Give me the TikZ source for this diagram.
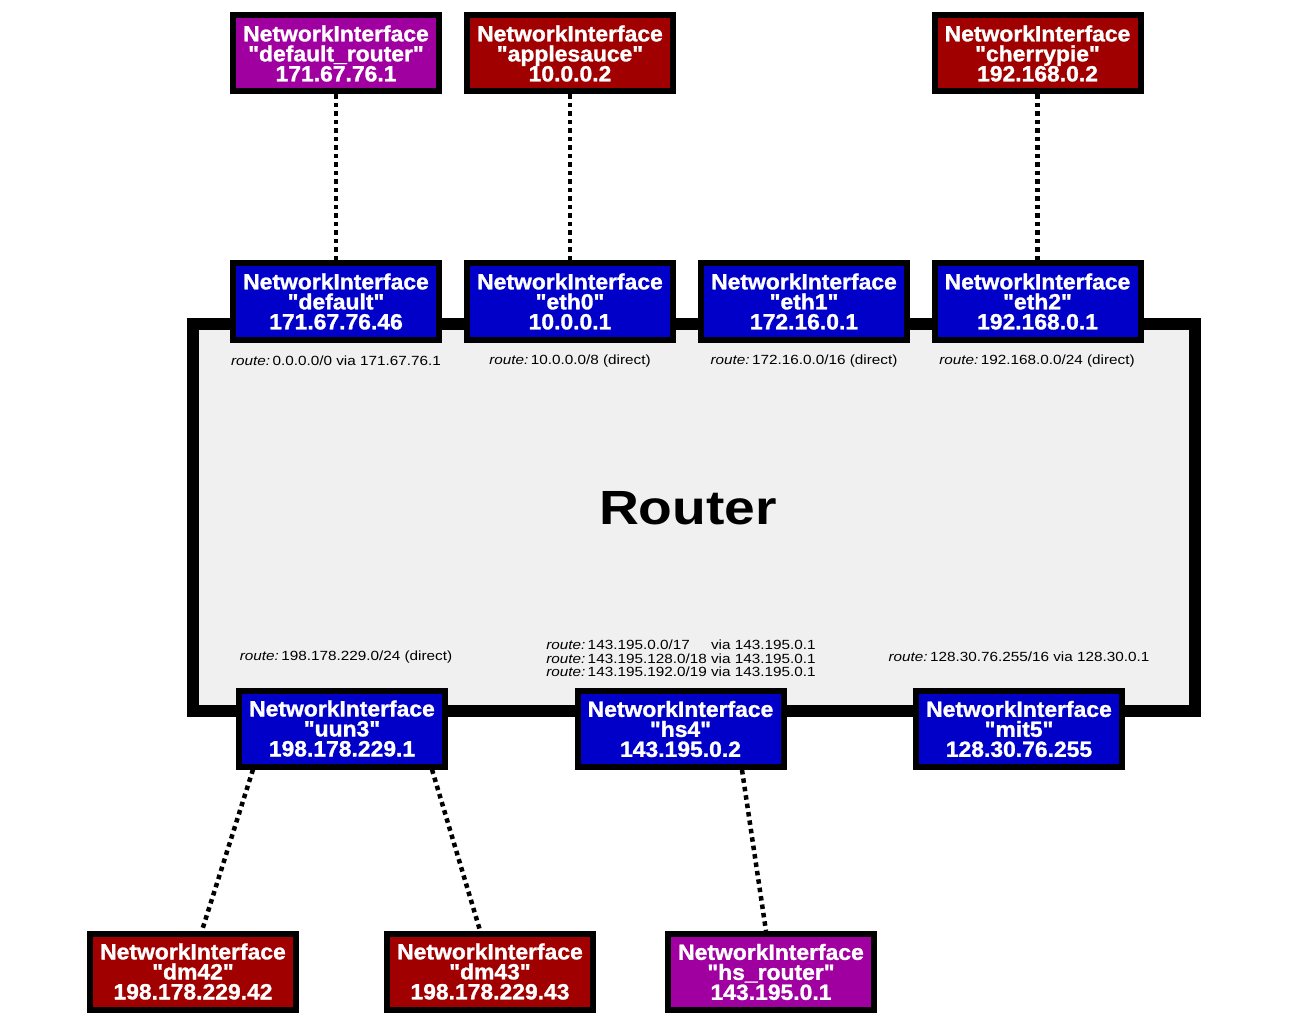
\documentclass[tikz,border=0pt]{standalone}
\usepackage{graphicx}
\usepackage{fontspec}
\setmainfont{Liberation Sans}
\newfontfamily\heavyfont[FakeBold=1.2]{Liberation Sans Bold}
\usetikzlibrary{calc,backgrounds}
\definecolor{nblue}{HTML}{0000C8}
\definecolor{nred}{HTML}{A00000}
\definecolor{npurple}{HTML}{A000A0}
\definecolor{routerfill}{HTML}{F0F0F0}
\newcommand{\qt}{\symbol{34}}
\newcommand{\tightlines}{\lineskiplimit-30pt\relax}
\newlength{\addrw}
\newcommand{\nibox}[2]{\scalebox{1.04}[1]{NetworkInterface}\\\scalebox{1.04}[1]{\qt#1\qt}\\\scalebox{1.04}[1]{#2}}
\newcommand{\rtline}[1]{\scalebox{1.15}[1]{\textit{route:}\hspace{0.15em}#1}}
\newcommand{\rtrow}[2]{\settowidth{\addrw}{143.195.192.0/19}\scalebox{1.15}[1]{\textit{route:}\hspace{0.15em}\makebox[\addrw][l]{#1} #2}}
\tikzset{
  ifbox/.style={draw=black, line width=6pt, minimum width=206pt, minimum height=76pt,
    inner sep=0pt, text=white, align=center,
    font={\fontsize{22}{20}\heavyfont\tightlines}},
  localif/.style={ifbox, fill=nblue},
  remoteif/.style={ifbox, fill=nred},
  gwif/.style={ifbox, fill=npurple},
  routelbl/.style={inner sep=0pt, text=black, font={\fontsize{13.3}{13.5}\selectfont}},
  link/.style={draw=black, line width=4.5pt, dash pattern=on 4.5pt off 4pt},
  routerbox/.style={draw=black, line width=12pt, fill=routerfill}
}
\begin{document}
\begin{tikzpicture}[x=1pt,y=-1pt]
\useasboundingbox (0,0) rectangle (1290,1024);
% router
\path[routerbox] (193,324) rectangle (1195,711);
\node[inner sep=0pt, font={\fontsize{48}{50}\selectfont\bfseries}] (router) at (688,508) {\scalebox{1.15}[1]{Router}};
% top outer interfaces
\node[gwif] (defrouter) at (336,53.5) {\nibox{default\_router}{171.67.76.1}};
\node[remoteif] (applesauce) at (570,53.5) {\nibox{applesauce}{10.0.0.2}};
\node[remoteif] (cherrypie) at (1037.5,53.5) {\nibox{cherrypie}{192.168.0.2}};
% router top interfaces
\node[localif] (default) at (336,301.5) {\nibox{default}{171.67.76.46}};
\node[localif] (eth0) at (570,301.5) {\nibox{eth0}{10.0.0.1}};
\node[localif] (eth1) at (804,301.5) {\nibox{eth1}{172.16.0.1}};
\node[localif] (eth2) at (1037.5,301.5) {\nibox{eth2}{192.168.0.1}};
% router bottom interfaces
\node[localif] (uun3) at (342,728.5) {\nibox{uun3}{198.178.229.1}};
\node[localif] (hs4) at (680.5,729) {\nibox{hs4}{143.195.0.2}};
\node[localif] (mit5) at (1019,729) {\nibox{mit5}{128.30.76.255}};
% bottom outer interfaces
\node[remoteif] (dm42) at (193,971.5) {\nibox{dm42}{198.178.229.42}};
\node[remoteif] (dm43) at (490,971.5) {\nibox{dm43}{198.178.229.43}};
\node[gwif] (hsrouter) at (771,972) {\nibox{hs\_router}{143.195.0.1}};
% routes
\node[routelbl] (r1) at (336,361) {\rtline{0.0.0.0/0 via 171.67.76.1}};
\node[routelbl] (r2) at (570,361) {\rtline{10.0.0.0/8 (direct)}};
\node[routelbl] (r3) at (804,361) {\rtline{172.16.0.0/16 (direct)}};
\node[routelbl] (r4) at (1037,361) {\rtline{192.168.0.0/24 (direct)}};
\node[routelbl] (r5) at (346,657) {\rtline{198.178.229.0/24 (direct)}};
\node[routelbl] (r6a) at (681,645) {\rtrow{143.195.0.0/17}{via 143.195.0.1}};
\node[routelbl] (r6b) at (681,658.5) {\rtrow{143.195.128.0/18}{via 143.195.0.1}};
\node[routelbl] (r6c) at (681,672) {\rtrow{143.195.192.0/19}{via 143.195.0.1}};
\node[routelbl] (r7) at (1019,657) {\rtline{128.30.76.255/16 via 128.30.0.1}};
% links
\begin{pgfonlayer}{background}
\path[link] (defrouter.south) -- (default.north);
\path[link] (applesauce.south) -- (eth0.north);
\path[link] (cherrypie.south) -- (eth2.north);
\path[link] ($(uun3.south)+(-89,0)$) -- ($(dm42.north)+(9,0)$);
\path[link] ($(uun3.south)+(90,0)$) -- ($(dm43.north)+(-10,0)$);
\path[link] ($(hs4.south)+(61.5,0)$) -- ($(hsrouter.north)+(-5,0)$);
\end{pgfonlayer}
\end{tikzpicture}
\end{document}
